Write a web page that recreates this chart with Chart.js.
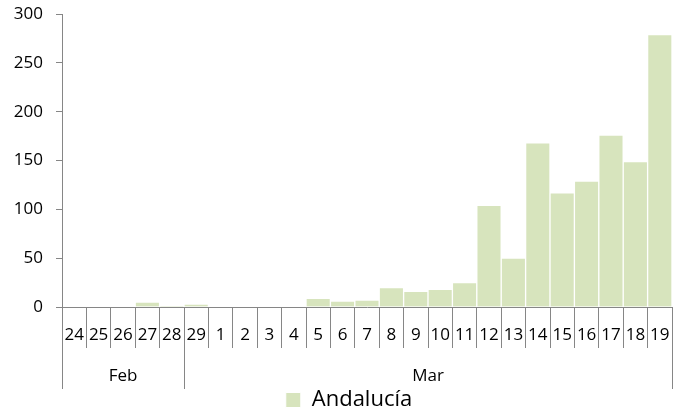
<!DOCTYPE html>
<html>
<head>
<meta charset="utf-8">
<script src="https://cdn.jsdelivr.net/npm/chart.js@4/dist/chart.umd.min.js"></script>
<style>
  html, body { margin: 0; padding: 0; background: #fff; }
  #wrap { width: 673px; height: 415px; }
</style>
</head>
<body>
<div id="wrap"><canvas id="chart"></canvas></div>
<script>
var days = ["24", "25", "26", "27", "28", "29", "1", "2", "3", "4", "5", "6", "7", "8", "9", "10", "11", "12", "13", "14", "15", "16", "17", "18", "19"];
var cases = [0, 0, 0, 5, 1, 3, 0, 0, 0, 0, 9, 6, 7, 20, 16, 18, 25, 104, 50, 168, 117, 129, 176, 149, 279];
var months = ["Feb", "Mar"];
var monthStart = [0, 5];   // first day index of each month group
var seriesName = "Andalucía";

var axisColor = "#868686";
var textColor = "#000000";
var fontFamily = "'Open Sans', 'Noto Sans', sans-serif";

// draws the second row of x labels (months) with the separator lines
var monthRow = {
    id: 'monthRow',
    afterLayout: function (chart) {
        // nudge the legend a bit right, as in the original
        chart.legend.left += 13;
        chart.legend.right += 13;
    },
    afterDraw: function (chart) {
        var ctx = chart.ctx;
        var x = chart.scales.x;
        var top = x.top + 41;
        var bottom = x.top + 82;
        var edges = [];
        for (var i = 0; i < monthStart.length; i++) {
            var k = monthStart[i];
            edges.push(k === 0 ? x.left : (x.getPixelForValue(k - 1) + x.getPixelForValue(k)) / 2);
        }
        edges.push(x.right);

        ctx.save();
        ctx.strokeStyle = axisColor;
        ctx.lineWidth = 1;
        ctx.beginPath();
        edges.forEach(function (e) {
            var px = Math.round(e) + 0.5;
            ctx.moveTo(px, top);
            ctx.lineTo(px, bottom);
        });
        ctx.stroke();

        ctx.fillStyle = textColor;
        ctx.font = "17px " + fontFamily;
        ctx.textAlign = 'center';
        ctx.textBaseline = 'middle';
        for (var j = 0; j < months.length; j++) {
            ctx.fillText(months[j], (edges[j] + edges[j + 1]) / 2, top + 28);
        }
        ctx.restore();
    }
};

new Chart(document.getElementById("chart"), {
    type: 'bar',
    data: {
        labels: days,
        datasets: [
            {
                label: seriesName,
                data: cases,
                backgroundColor: "#d7e4bd",
                borderColor: "#ffffff",
                borderWidth: 1,
                categoryPercentage: 1,
                barPercentage: 1
            }
        ]
    },
    options: {
        responsive: true,
        maintainAspectRatio: false,
        animation: false,
        layout: { padding: { top: 0, right: 1, left: 0, bottom: -6 } },
        plugins: {
            tooltip: { enabled: false },
            legend: {
                position: 'bottom',
                labels: {
                    color: textColor,
                    font: { family: fontFamily, size: 22 },
                    boxWidth: 15,
                    boxHeight: 15,
                    padding: 0
                }
            }
        },
        scales: {
            x: {
                offset: true,
                grid: {
                    offset: true,
                    drawOnChartArea: false,
                    drawTicks: true,
                    tickLength: 41,
                    color: axisColor
                },
                border: { color: axisColor },
                ticks: {
                    color: textColor,
                    font: { family: fontFamily, size: 17 },
                    maxRotation: 0,
                    autoSkip: false,
                    padding: -23
                },
                afterFit: function (scale) { scale.height = 82; }
            },
            y: {
                min: 0,
                max: 300,
                grid: {
                    drawOnChartArea: false,
                    drawTicks: true,
                    tickLength: 6,
                    color: axisColor
                },
                border: { color: axisColor },
                ticks: {
                    stepSize: 50,
                    color: textColor,
                    font: { family: fontFamily, size: 17 },
                    padding: 13
                },
                afterFit: function (scale) {
                    scale.width = 62;
                    scale.paddingTop = 14;
                    scale.paddingBottom = 0;
                }
            }
        }
    },
    plugins: [monthRow]
});
</script>
</body>
</html>
